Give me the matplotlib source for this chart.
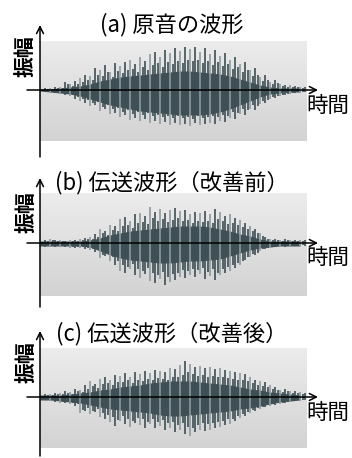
import numpy as np
import matplotlib
matplotlib.use("Agg")
import matplotlib.pyplot as plt
from matplotlib.colors import LinearSegmentedColormap

plt.rcParams['font.family'] = ['Noto Sans CJK JP', 'DejaVu Sans']

titles = ["(a) 原音の波形", "(b) 伝送波形（改善前）", "(c) 伝送波形（改善後）"]
amp_label = "振幅"
time_label = "時間"

# body envelope knots (time 0..260 step 10)
body_t = np.arange(0, 270, 10)
body_up_a = [1,1,2,3,4,6,9,11,13,14,15,16,17,18,19,19,18,17,16,14,11,8,5,3,2,2,2]
body_lo_a = [1,2,3,4,6,9,12,15,17,19,21,22,23,24,25,25,25,24,22,19,15,11,7,4,3,2,2]
body_up_b = [2,2,2,2,2,3,5,8,10,12,13,14,15,16,17,17,17,16,14,12,9,7,4,2,2,2,2]
body_lo_b = [3,3,3,3,3,4,8,12,15,17,18,19,20,20,19,18,18,17,16,13,10,7,5,4,3,3,3]
body_up_c = [2,2,2,3,4,5,7,8,10,11,12,14,15,16,16,16,15,14,13,12,10,8,7,5,4,3,2]
body_lo_c = [3,3,4,5,6,8,10,12,13,14,15,16,18,19,19,18,17,16,15,14,12,11,9,7,5,4,3]

# spikes (time 5..265 step 5)
spike_t = np.arange(5, 270, 5)
spike_up_a = [2,2,3,3,8,6,9,12,15,14,22,20,25,18,27,24,28,30,26,33,29,36,38,33,40,37,42,39,43,41,43,38,42,36,40,34,37,30,33,26,28,20,22,13,15,8,10,6,5,5,4,3,3]
spike_lo_a = [2,3,3,4,5,6,9,11,13,16,15,21,19,24,23,27,25,30,28,31,29,33,31,34,32,35,33,35,34,36,33,35,34,33,34,31,32,28,29,24,25,19,20,14,13,9,8,6,5,4,3,3,2]
spike_up_b = [3,4,3,3,2,3,3,4,5,6,9,14,12,18,17,24,26,22,29,30,27,36,31,34,30,33,35,32,33,29,31,30,32,29,34,31,27,29,25,23,20,17,14,10,6,4,4,3,4,3,3,3,3]
spike_lo_b = [4,4,4,4,4,5,5,5,6,7,9,15,13,18,22,28,30,26,32,35,31,38,40,36,42,39,37,34,35,32,34,31,36,33,37,32,30,28,25,22,17,14,12,8,6,5,4,4,4,3,3,3,3]
spike_up_c = [3,3,4,4,6,5,8,7,12,16,13,18,20,17,22,21,24,20,25,23,26,24,27,26,25,29,28,32,36,33,30,31,29,30,28,29,27,26,25,24,23,20,17,16,15,12,10,7,8,6,6,5,4]
spike_lo_c = [3,4,5,6,6,7,9,16,14,17,15,20,22,25,29,24,27,30,26,28,31,27,31,29,33,31,35,33,37,39,35,33,34,33,31,30,28,27,24,21,19,16,14,12,10,9,8,7,6,5,4,4,3]

panels = [
    dict(up=body_up_a, lo=body_lo_a, sup=spike_up_a, slo=spike_lo_a,
         top=41, bot=141, axis=90, tip=25, vbot=157, title_y=25, amp_y=56, time_y=106, amp_x=25),
    dict(up=body_up_b, lo=body_lo_b, sup=spike_up_b, slo=spike_lo_b,
         top=193, bot=296, axis=243, tip=178, vbot=307, title_y=183, amp_y=212, time_y=258, amp_x=26),
    dict(up=body_up_c, lo=body_lo_c, sup=spike_up_c, slo=spike_lo_c,
         top=348, bot=448, axis=397, tip=331, vbot=456, title_y=334, amp_y=362, time_y=413, amp_x=26),
]

W, H = 352, 458
fig = plt.figure(figsize=(W/100, H/100), dpi=100)
fig.patch.set_facecolor('white')

x0, x1 = 40, 307
dark = '#3e4f55'
light = '#8e999c'
grad = np.linspace(0, 1, 100).reshape(-1, 1)
cmap = LinearSegmentedColormap.from_list('g', ['#ececec', '#d3d3d3'])
arrow = '->,head_length=0.5,head_width=0.25'

for i, p in enumerate(panels):
    ax = fig.add_axes([x0/W, 1 - p['bot']/H, (x1-x0)/W, (p['bot']-p['top'])/H])
    ymax = p['axis'] - p['top']
    ymin = -(p['bot'] - p['axis'])
    ax.set_xlim(0, x1 - x0)
    ax.set_ylim(ymin, ymax)
    ax.axis('off')
    ax.imshow(grad, extent=(0, x1-x0, ymin, ymax), aspect='auto', cmap=cmap, zorder=0)
    up = np.array(p['up']); lo = np.array(p['lo'])
    ax.fill_between(body_t, up, -lo, color=dark, lw=0, zorder=2)
    sup = np.array(p['sup']); slo = np.array(p['slo'])
    for k, (t, a, b) in enumerate(zip(spike_t, sup, slo)):
        c = light if k % 2 else dark
        ax.vlines(t, -b, a, color=c, lw=1.2, zorder=3)
        ax.vlines(t + 2.5, -0.8*b, 0.7*a, color=dark, lw=1.2, zorder=3)
    # axes arrows
    ax.annotate('', xy=(318 - x0, 0), xytext=(27 - x0, 0),
                arrowprops=dict(arrowstyle=arrow, color='black', lw=1.1,
                                shrinkA=0, shrinkB=0), annotation_clip=False, zorder=5)
    ax.annotate('', xy=(0, p['axis'] - p['tip']), xytext=(0, p['axis'] - p['vbot']),
                arrowprops=dict(arrowstyle=arrow, color='black', lw=1.1,
                                shrinkA=0, shrinkB=0), annotation_clip=False, zorder=5)
    ax.text(172 - x0, p['axis'] - p['title_y'], titles[i], ha='center', va='center',
            fontsize=16, clip_on=False)
    ax.text(p['amp_x'] - x0, p['axis'] - p['amp_y'], amp_label, ha='center', va='center',
            rotation=90, fontsize=15, fontweight='bold', clip_on=False)
    ax.text(328 - x0, p['axis'] - p['time_y'], time_label, ha='center', va='center',
            fontsize=15.5, clip_on=False)

fig.savefig('out.png', dpi=100, facecolor='white')
